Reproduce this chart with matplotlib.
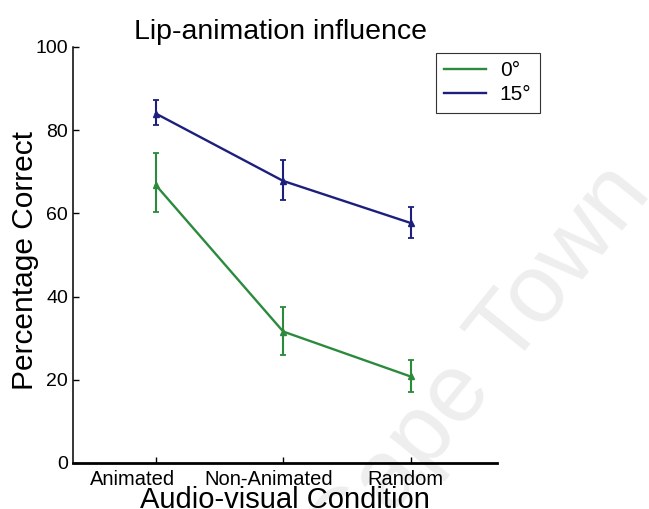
import numpy as np
import matplotlib.pyplot as plt
from matplotlib.transforms import ScaledTranslation

conditions = ['Animated', 'Non-Animated', 'Random']
pos = [1, 2, 3]

# 0 degree and 15 degree series
deg0_mean = [66.8, 31.6, 20.8]
deg0_lo = [60.4, 26.0, 17.1]
deg0_hi = [74.6, 37.6, 24.8]

deg15_mean = [84.0, 67.8, 57.7]
deg15_lo = [81.3, 63.2, 54.1]
deg15_hi = [87.3, 72.8, 61.6]

labels = ['0°', '15°']
colors = ['#2b8a3c', '#1c1f7c']

plt.rcParams['font.family'] = ['Liberation Sans', 'DejaVu Sans']

fig = plt.figure(figsize=(6.49, 5.09), dpi=100)
ax = fig.add_axes([0.1125, 0.0904, 0.6535, 0.8173])
ax.patch.set_alpha(0)

# faint watermark of the scan, kept under everything
fig.text(0.74, 0.28, 'Cape Town', fontsize=70, color='#eeeeee', rotation=51,
         ha='center', va='center', zorder=-5)

lines = []
for m, lo, hi, lab, c in zip([deg0_mean, deg15_mean], [deg0_lo, deg15_lo],
                             [deg0_hi, deg15_hi], labels, colors):
    m = np.array(m)
    err = [m - np.array(lo), np.array(hi) - m]
    ln, = ax.plot(pos, m, color=c, lw=1.7, label=lab, zorder=3)
    lines.append(ln)
    ax.errorbar(pos, m, yerr=err, fmt='^', color=c, ms=4, ecolor=c,
                elinewidth=1.5, capsize=2.5, capthick=1.3, zorder=4)

ax.set_xlim(0.35, 3.68)
ax.set_ylim(0, 100)
ax.set_yticks([0, 20, 40, 60, 80, 100])
ax.set_xticks(pos)
ax.set_xticklabels(conditions, fontsize=14.5)
ax.tick_params(axis='y', labelsize=14, direction='in', length=4, width=1)
ax.tick_params(axis='x', direction='in', length=4, width=1, pad=5)
for s in ['top', 'right']:
    ax.spines[s].set_visible(False)
ax.spines['left'].set_linewidth(1.1)
ax.spines['bottom'].set_linewidth(2)

# tick labels in the scan sit a little off their ticks
shifts = [-23, -14, -5]
for t, dx in zip(ax.get_xticklabels(), shifts):
    t.set_transform(t.get_transform() + ScaledTranslation(dx / 100, 0, fig.dpi_scale_trans))

ax.set_xlabel('Audio-visual Condition', fontsize=21)
ax.xaxis.set_label_coords(0.5, -0.109)
ax.xaxis.label.set_va('baseline')
ax.set_ylabel('Percentage Correct', fontsize=21.5)
ax.yaxis.set_label_coords(-0.113, 0.486)
ax.yaxis.label.set_va('center')
ax.set_title('Lip-animation influence', fontsize=20.5, pad=6, x=0.49)

leg = fig.legend(lines, labels, loc='upper left', bbox_to_anchor=(0.672, 0.896),
                 borderaxespad=0, fontsize=15, frameon=True, fancybox=False,
                 framealpha=1, edgecolor='#333333', handlelength=2.0,
                 handletextpad=0.65, borderpad=0.4, labelspacing=0.25)
leg.get_frame().set_linewidth(0.8)

fig.savefig('out.png', dpi=100)
